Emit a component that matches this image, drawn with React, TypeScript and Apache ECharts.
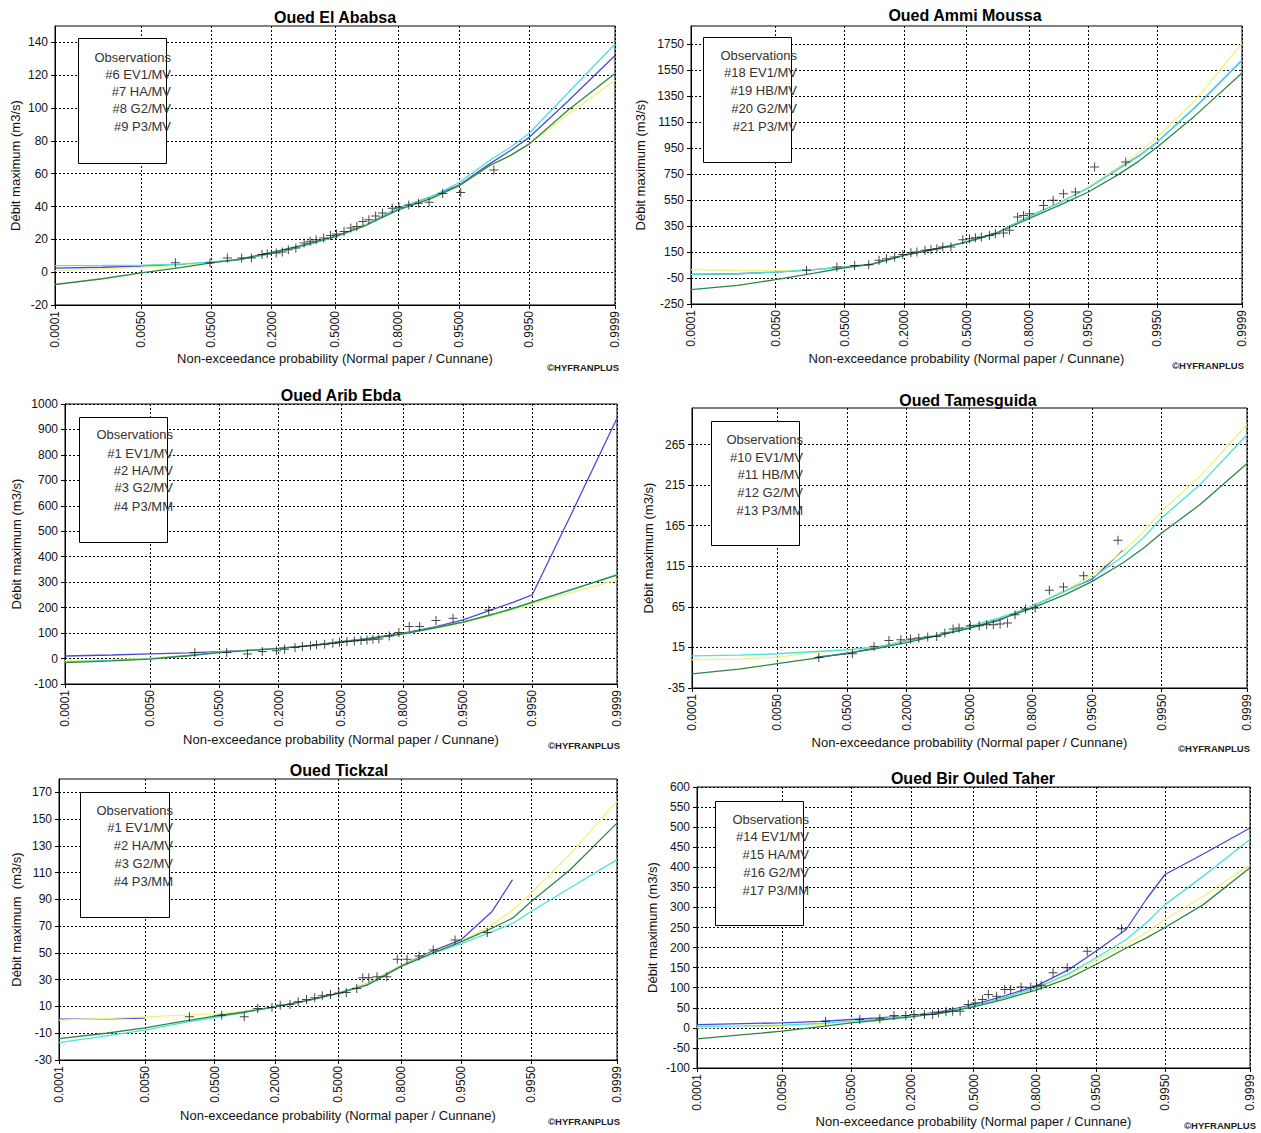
import React, { useEffect, useRef } from "react";
import * as echarts from "echarts";

// ---------------- data ----------------
const PROB_TICKS = [0.0001, 0.005, 0.05, 0.2, 0.5, 0.8, 0.95, 0.995, 0.9999];
const PROB_GRID = [0.0001, 0.001, 0.005, 0.02, 0.05, 0.1, 0.2, 0.35, 0.5, 0.65, 0.8, 0.9, 0.95, 0.98, 0.99, 0.995, 0.999, 0.9999];

const P1_Y_TICKS = [-20, 0, 20, 40, 60, 80, 100, 120, 140];
const P2_Y_TICKS = [-250, -50, 150, 350, 550, 750, 950, 1150, 1350, 1550, 1750];
const P3_Y_TICKS = [-100, 0, 100, 200, 300, 400, 500, 600, 700, 800, 900, 1000];
const P4_Y_TICKS = [-35, 15, 65, 115, 165, 215, 265];
const P5_Y_TICKS = [-30, -10, 10, 30, 50, 70, 90, 110, 130, 150, 170];
const P6_Y_TICKS = [-100, -50, 0, 50, 100, 150, 200, 250, 300, 350, 400, 450, 500, 550, 600];

// observations: reduced normal variate u and discharge Q
const P1_OBS_U = [-2.12, -1.66, -1.43, -1.24, -1.11, -0.97, -0.9, -0.78, -0.7, -0.62, -0.52, -0.41, -0.33, -0.25, -0.15, -0.06, 0.02, 0.12, 0.21, 0.29, 0.37, 0.45, 0.54, 0.63, 0.76, 0.85, 0.98, 1.11, 1.25, 1.43, 1.67, 2.11];
const P1_OBS_Q = [5.7, 5.7, 8.7, 8.7, 8.7, 10.7, 11.3, 11.7, 12.3, 13.7, 14.7, 17.8, 18.8, 19.8, 20.8, 22.4, 23.2, 24.8, 26.9, 27.9, 30.9, 31.9, 34.3, 36, 39, 39.6, 41, 42, 42.6, 48, 48.5, 62.2];
const P2_OBS_U = [-2.16, -1.75, -1.51, -1.32, -1.18, -1.08, -0.97, -0.86, -0.75, -0.67, -0.56, -0.48, -0.4, -0.32, -0.21, -0.05, 0.04, 0.12, 0.2, 0.31, 0.39, 0.5, 0.58, 0.69, 0.77, 0.85, 1.04, 1.17, 1.31, 1.47, 1.73, 2.15];
const P2_OBS_Q = [9, 34, 47, 52, 86, 99, 111, 132, 145, 150, 163, 170, 176, 188, 188, 245, 253, 260, 265, 278, 291, 296, 317, 420, 432, 445, 509, 548, 599, 612, 805, 843];
const P3_OBS_U = [-1.97, -1.54, -1.26, -1.06, -0.87, -0.76, -0.62, -0.52, -0.41, -0.33, -0.22, -0.11, -0.02, 0.08, 0.18, 0.27, 0.35, 0.43, 0.51, 0.65, 0.78, 0.92, 1.06, 1.28, 1.51, 1.99];
const P3_OBS_Q = [23.6, 23.6, 18, 27.5, 31, 36.6, 43, 47, 50, 54, 56, 60, 64, 67, 69, 71, 73, 76, 77, 89, 102, 126, 126, 149, 158, 191];
const P4_OBS_U = [-2.02, -1.57, -1.28, -1.08, -0.92, -0.79, -0.68, -0.56, -0.44, -0.33, -0.22, -0.14, 0.01, 0.13, 0.23, 0.32, 0.41, 0.51, 0.61, 0.75, 0.88, 1.07, 1.26, 1.53, 1.99];
const P4_OBS_Q = [2.7, 7.2, 16.2, 23.6, 24.5, 25.3, 26.5, 27.7, 28.6, 32.7, 37.6, 38.8, 41.7, 41.7, 43, 43, 43.8, 45, 55.3, 62.3, 63.5, 85.3, 89.4, 103.4, 147];
const P5_OBS_U = [-1.98, -1.55, -1.25, -1.07, -0.88, -0.77, -0.64, -0.53, -0.42, -0.31, -0.21, -0.1, 0.01, 0.11, 0.25, 0.33, 0.41, 0.52, 0.65, 0.79, 0.92, 1.08, 1.27, 1.56, 1.99];
const P5_OBS_Q = [2.25, 3.5, 2.25, 8.5, 9.25, 11, 11.5, 13.5, 15.25, 16.5, 18, 19, 20, 20.5, 23.5, 31.5, 31.5, 32.25, 32.25, 45.25, 45.25, 47.75, 52.25, 59.75, 65.25];
const P6_OBS_U = [-1.99, -1.53, -1.26, -1.07, -0.91, -0.8, -0.66, -0.55, -0.47, -0.37, -0.28, -0.18, -0.07, 0.02, 0.12, 0.2, 0.31, 0.42, 0.5, 0.64, 0.77, 0.85, 0.91, 1.07, 1.26, 1.53, 1.99];
const P6_OBS_Q = [16.6, 20.8, 22.4, 30.7, 30.7, 33.2, 33.2, 33.2, 37.4, 39.9, 41.5, 41.5, 58, 62, 70.6, 83, 79, 95.5, 95.5, 102, 101, 104, 106, 137, 149.5, 191, 246.7];

// fitted quantile curves, one value per PROB_GRID entry
const P1_BLUE = [2.5, 3.0, 3.6, 4.6, 6.0, 7.5, 11.5, 16.5, 21.5, 28.5, 39, 46, 53, 66, 74, 82, 104, 132];
const P1_CYAN = [4.0, 4.1, 4.3, 4.9, 6.2, 7.6, 11.5, 16.5, 21.3, 28, 39, 46, 54.5, 68, 76, 84.5, 109, 139];
const P1_YELLOW = [1.0, 2.0, 3.0, 4.2, 6.0, 7.8, 12, 17, 22, 28.5, 38.5, 45, 52.5, 64.5, 71, 78, 96, 117];
const P1_GREEN = [-7.5, -4, -0.4, 2.8, 5.7, 7.8, 12, 17, 21.8, 28, 38, 45, 52.5, 65, 71, 78, 98.5, 121];

const P2_BLUE = [-22, -17, -4, 14, 36, 57, 126, 178, 229, 293, 422, 537, 645, 792, 890, 997, 1267, 1626];
const P2_CYAN = [-22, -17, -4, 14, 34, 55, 124, 176, 227, 291, 420, 535, 645, 792, 890, 997, 1267, 1626];
const P2_YELLOW = [14, 8, 6, 14, 34, 55, 124, 176, 227, 291, 420, 535, 650, 805, 915, 1036, 1318, 1758];
const P2_GREEN = [-140, -107, -63, -12, 29, 55, 124, 176, 227, 291, 407, 517, 612, 748, 850, 959, 1202, 1528];

const P3_BLUE = [10, 14, 18, 22, 27, 32, 40, 52, 66, 80, 100, 125, 152, 194, 222, 250, 560, 944];
const P3_CYAN = [-13, -7, 0, 12, 24, 31, 40, 52, 64, 78, 97, 122, 143, 174, 197, 220, 268, 331];
const P3_YELLOW = [-8, -4, 2, 13, 24, 31, 40, 52, 64, 77, 96, 119, 140, 170, 192, 214, 258, 309];
const P3_GREEN = [-16, -9, -2, 11, 23, 31, 40, 52, 64, 78, 97, 122, 143, 175, 198, 222, 270, 328];

const P4_BLUE = [null, null, null, 3, 7.2, 14, 23.6, 30.6, 38.8, 48, 65.5, 85, 99, 134.6, null, null, null, null];
const P4_CYAN = [4.7, 5.5, 7.2, 10, 12, 15, 22.4, 31.4, 41, 51, 65.5, 84, 100.5, 127, 150, 174.5, 215.6, 277];
const P4_YELLOW = [-0.2, 0.6, 3, 8.8, 12, 15.5, 23, 31.5, 41, 51, 65.5, 85, 104.6, 133, 157, 182.7, 225.8, 289.6];
const P4_GREEN = [-17.5, -11.7, -5, 1.8, 8, 13, 21, 30.6, 38.8, 49, 63.5, 80, 96.4, 119, 137, 156, 191, 241.5];

const P5_BLUE = [0.5, 0.8, 1.3, null, 3, 6, 9.75, 14.5, 19.75, 27, 40.5, 52, 60, 81, 104.75, null, null, null];
const P5_CYAN = [-17, -12, -7.75, -2, 1.75, 5, 9.75, 14.75, 19.75, 26, 40, 50, 57, 66, 72, 81, 98.5, 119.75];
const P5_YELLOW = [-0.25, 1, 2.25, 3.5, 4.25, 6, 9.75, 14.5, 19.75, 27, 40.5, 51, 58.5, 71, 82, 94.75, 123.5, 163.5];
const P5_GREEN = [-14, -10, -6, -1, 2.75, 5.5, 9.75, 14.75, 19.75, 26, 40, 50.5, 58.5, 68.5, 76, 88.5, 112, 147];

const P6_BLUE = [8.3, 10.5, 12.5, 16, 20.8, 25, 30.7, 42, 58, 78, 104, 145, 191, 245, 321, 382, 433, 498];
const P6_CYAN = [4, 5, 6.6, 11, 16.6, 22, 29, 40, 55.6, 74, 99.7, 135, 174, 220, 262, 307, 378, 469];
const P6_YELLOW = [0, 2, 4, 9, 16.6, 22, 29, 40, 55.6, 73, 97, 132, 168.6, 207.6, 238, 270, 328, 407];
const P6_GREEN = [-27.4, -17, -8.3, 3, 12.5, 19, 27.4, 38, 52.3, 70, 93.9, 124, 157.8, 199, 224, 250, 307, 398.7];

const P1_LEGEND = ["Observations", "#6 EV1/MV", "#7 HA/MV", "#8 G2/MV", "#9 P3/MV"];
const P2_LEGEND = ["Observations", "#18 EV1/MV", "#19 HB/MV", "#20 G2/MV", "#21 P3/MV"];
const P3_LEGEND = ["Observations", "#1 EV1/MV", "#2 HA/MV", "#3 G2/MV", "#4 P3/MM"];
const P4_LEGEND = ["Observations", "#10 EV1/MV", "#11 HB/MV", "#12 G2/MV", "#13 P3/MM"];
const P5_LEGEND = ["Observations", "#1 EV1/MV", "#2 HA/MV", "#3 G2/MV", "#4 P3/MM"];
const P6_LEGEND = ["Observations", "#14 EV1/MV", "#15 HA/MV", "#16 G2/MV", "#17 P3/MM"];

const X_NAME = "Non-exceedance probability (Normal paper / Cunnane)";
const WATERMARK = "©HYFRANPLUS";

const PANELS = [
  { title: "Oued El Ababsa", yName: "Débit maximum (m3/s)", yMin: -20, yMax: 150, yTicks: P1_Y_TICKS, obsU: P1_OBS_U, obsQ: P1_OBS_Q, blue: P1_BLUE, cyan: P1_CYAN, yellow: P1_YELLOW, green: P1_GREEN, legend: P1_LEGEND },
  { title: "Oued Ammi Moussa", yName: "Débit maximum (m3/s)", yMin: -250, yMax: 1890, yTicks: P2_Y_TICKS, obsU: P2_OBS_U, obsQ: P2_OBS_Q, blue: P2_BLUE, cyan: P2_CYAN, yellow: P2_YELLOW, green: P2_GREEN, legend: P2_LEGEND },
  { title: "Oued Arib Ebda", yName: "Débit maximum (m3/s)", yMin: -100, yMax: 1000, yTicks: P3_Y_TICKS, obsU: P3_OBS_U, obsQ: P3_OBS_Q, blue: P3_BLUE, cyan: P3_CYAN, yellow: P3_YELLOW, green: P3_GREEN, legend: P3_LEGEND },
  { title: "Oued Tamesguida", yName: "Débit maximum (m3/s)", yMin: -35, yMax: 310, yTicks: P4_Y_TICKS, obsU: P4_OBS_U, obsQ: P4_OBS_Q, blue: P4_BLUE, cyan: P4_CYAN, yellow: P4_YELLOW, green: P4_GREEN, legend: P4_LEGEND },
  { title: "Oued Tickzal", yName: "Débit maximum  (m3/s)", yMin: -30, yMax: 180, yTicks: P5_Y_TICKS, obsU: P5_OBS_U, obsQ: P5_OBS_Q, blue: P5_BLUE, cyan: P5_CYAN, yellow: P5_YELLOW, green: P5_GREEN, legend: P5_LEGEND },
  { title: "Oued Bir Ouled Taher", yName: "Débit maximum (m3/s)", yMin: -100, yMax: 600, yTicks: P6_Y_TICKS, obsU: P6_OBS_U, obsQ: P6_OBS_Q, blue: P6_BLUE, cyan: P6_CYAN, yellow: P6_YELLOW, green: P6_GREEN, legend: P6_LEGEND },
];

// ---------------- layout (pixels) ----------------
const LAYOUT = [
  { grid: { left: 55, top: 26, width: 560, height: 279 }, yNameGap: 33, xNameGap: 47, title: [335, 17], mark: [619, 367], box: [78, 38, 88, 125], textRight: 171, lineY: [57, 74, 91, 108, 126] },
  { grid: { left: 691, top: 26, width: 551, height: 278 }, yNameGap: 44, xNameGap: 48, title: [965, 15], mark: [1244, 365], box: [703, 37, 88, 125], textRight: 797, lineY: [55, 72, 90, 108, 126] },
  { grid: { left: 65, top: 404, width: 552, height: 280 }, yNameGap: 42, xNameGap: 49, title: [341, 395], mark: [620, 745], box: [79, 417, 88, 125], textRight: 173, lineY: [434, 453, 470, 487, 506] },
  { grid: { left: 692, top: 408, width: 555, height: 280 }, yNameGap: 37, xNameGap: 48, title: [968, 400], mark: [1250, 748], box: [711, 421, 88, 124], textRight: 803, lineY: [439, 457, 474, 492, 510] },
  { grid: { left: 59, top: 779, width: 558, height: 281 }, yNameGap: 36, xNameGap: 49, title: [339, 770], mark: [620, 1121], box: [80, 792, 89, 125], textRight: 173, lineY: [810, 827, 845, 863, 881] },
  { grid: { left: 697, top: 787, width: 553, height: 281 }, yNameGap: 38, xNameGap: 47, title: [973, 778], mark: [1256, 1125], box: [715, 801, 88, 124], textRight: 809, lineY: [819, 836, 854, 872, 890] },
];

const FONT = "'Liberation Sans', Arial, sans-serif";
const COLORS: Record<string, string> = { blue: "#4a4ad6", cyan: "#48e2e2", yellow: "#f2f27a", green: "#2f8744" };
const PLUS = "path://M4,0H5V4H9V5H5V9H4V5H0V4H4Z";

// inverse standard normal CDF (normal probability paper scale)
function probit(p: number): number {
  const a = [-39.69683028665376, 220.9460984245205, -275.9285104469687, 138.357751867269, -30.66479806614716, 2.506628277459239];
  const b = [-54.47609879822406, 161.5858368580409, -155.6989798598866, 66.80131188771972, -13.28068155288572];
  const c = [-0.007784894002430293, -0.3223964580411365, -2.400758277161838, -2.549732539343734, 4.374664141464968, 2.938163982698783];
  const d = [0.007784695709041462, 0.3224671290700398, 2.445134137142996, 3.754408661907416];
  const plow = 0.02425;
  if (p < plow) {
    const q = Math.sqrt(-2 * Math.log(p));
    return (((((c[0] * q + c[1]) * q + c[2]) * q + c[3]) * q + c[4]) * q + c[5]) / ((((d[0] * q + d[1]) * q + d[2]) * q + d[3]) * q + 1);
  }
  if (p > 1 - plow) {
    const q = Math.sqrt(-2 * Math.log(1 - p));
    return -(((((c[0] * q + c[1]) * q + c[2]) * q + c[3]) * q + c[4]) * q + c[5]) / ((((d[0] * q + d[1]) * q + d[2]) * q + d[3]) * q + 1);
  }
  const q = p - 0.5;
  const r = q * q;
  return ((((((a[0] * r + a[1]) * r + a[2]) * r + a[3]) * r + a[4]) * r + a[5]) * q) / (((((b[0] * r + b[1]) * r + b[2]) * r + b[3]) * r + b[4]) * r + 1);
}

const TICK_Z = PROB_TICKS.map(probit);
const GRID_Z = PROB_GRID.map(probit);
const Z_MIN = TICK_Z[0];
const Z_MAX = TICK_Z[TICK_Z.length - 1];

function xLabel(v: number): string {
  let best = 0;
  for (let k = 0; k < TICK_Z.length; k++) {
    if (Math.abs(TICK_Z[k] - v) < Math.abs(TICK_Z[best] - v)) best = k;
  }
  return PROB_TICKS[best].toFixed(4);
}

function buildOption() {
  const grid: any[] = [];
  const xAxis: any[] = [];
  const yAxis: any[] = [];
  const series: any[] = [];
  const graphic: any[] = [];
  const dash = { color: "#000", type: [2, 2], width: 1 };

  PANELS.forEach((p: any, i) => {
    const L = LAYOUT[i];
    grid.push({ ...L.grid, show: true, borderColor: "#000", borderWidth: 1, backgroundColor: "#fff", containLabel: false });
    xAxis.push({
      type: "value",
      gridIndex: i,
      min: Z_MIN,
      max: Z_MAX,
      name: X_NAME,
      nameLocation: "middle",
      nameGap: L.xNameGap,
      nameTextStyle: { fontFamily: FONT, fontSize: 13, color: "#111" },
      axisLine: { show: true, onZero: false, lineStyle: { color: "#000", width: 1 } },
      axisTick: { show: true, length: 4, customValues: TICK_Z, lineStyle: { color: "#000" } },
      axisLabel: { customValues: TICK_Z, rotate: 90, margin: 6, fontFamily: FONT, fontSize: 12, color: "#111", formatter: xLabel, showMinLabel: true, showMaxLabel: true },
      splitLine: { show: true, lineStyle: dash },
    });
    yAxis.push({
      type: "value",
      gridIndex: i,
      min: p.yMin,
      max: p.yMax,
      name: p.yName,
      nameLocation: "middle",
      nameRotate: 90,
      nameGap: L.yNameGap,
      nameTextStyle: { fontFamily: FONT, fontSize: 13, color: "#111" },
      axisLine: { show: true, onZero: false, lineStyle: { color: "#000", width: 1 } },
      axisTick: { show: true, length: 4, customValues: p.yTicks, lineStyle: { color: "#000" } },
      axisLabel: { customValues: p.yTicks, margin: 7, fontFamily: FONT, fontSize: 12, color: "#111", formatter: (v: number) => String(v) },
      splitLine: { show: true, lineStyle: dash },
    });

    const names = p.legend.slice(1);
    const order = [
      { key: "blue", name: names[0] },
      { key: "yellow", name: names[2] },
      { key: "cyan", name: names[1] },
      { key: "green", name: names[3] },
    ];
    order.forEach((o, k) => {
      const vals: (number | null)[] = p[o.key];
      series.push({
        type: "line",
        name: o.name,
        xAxisIndex: i,
        yAxisIndex: i,
        data: GRID_Z.map((z, j) => [z, vals[j]]),
        showSymbol: false,
        symbol: "none",
        smooth: false,
        connectNulls: false,
        clip: true,
        silent: true,
        z: 2 + k,
        lineStyle: { color: COLORS[o.key], width: 1.3 },
        itemStyle: { color: COLORS[o.key] },
      });
    });
    series.push({
      type: "scatter",
      name: p.legend[0],
      xAxisIndex: i,
      yAxisIndex: i,
      data: p.obsU.map((u: number, j: number) => [u, p.obsQ[j]]),
      symbol: PLUS,
      symbolSize: 9,
      silent: true,
      z: 10,
      itemStyle: { color: "#1a1a1a" },
    });

    graphic.push({
      type: "text",
      x: L.title[0],
      y: L.title[1],
      z: 100,
      style: { text: p.title, font: `bold 16px ${FONT}`, fill: "#000", textAlign: "center", textVerticalAlign: "middle" },
    });
    graphic.push({
      type: "text",
      x: L.mark[0],
      y: L.mark[1],
      z: 100,
      style: { text: WATERMARK, font: `bold 9.5px ${FONT}`, fill: "#222", textAlign: "right", textVerticalAlign: "middle" },
    });
    graphic.push({
      type: "rect",
      z: 100,
      shape: { x: L.box[0] + 0.5, y: L.box[1] + 0.5, width: L.box[2], height: L.box[3] },
      style: { fill: "#fff", stroke: "#000", lineWidth: 1 },
    });
    p.legend.forEach((t: string, k: number) => {
      graphic.push({
        type: "text",
        x: L.textRight,
        y: L.lineY[k],
        z: 101,
        style: { text: t, font: `13px ${FONT}`, fill: "#333", textAlign: "right", textVerticalAlign: "middle" },
      });
    });
  });

  return {
    animation: false,
    backgroundColor: "#fff",
    textStyle: { fontFamily: FONT },
    grid,
    xAxis,
    yAxis,
    series,
    graphic: { elements: graphic },
  };
}

export default function App() {
  const ref = useRef<HTMLDivElement>(null);
  useEffect(() => {
    if (!ref.current) return;
    const chart = echarts.init(ref.current, undefined, { renderer: "svg" });
    chart.setOption(buildOption() as any);
    return () => chart.dispose();
  }, []);
  return <div ref={ref} style={{ position: "absolute", left: 0, top: 0, width: 1261, height: 1133 }} />;
}
